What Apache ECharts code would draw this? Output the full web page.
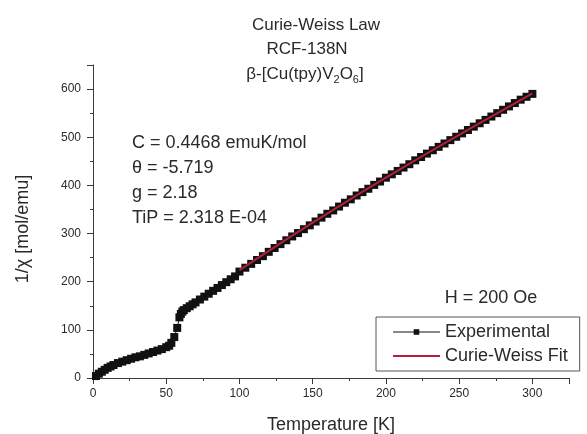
<!DOCTYPE html>
<html>
<head>
<meta charset="utf-8">
<script src="https://cdn.jsdelivr.net/npm/echarts@6/dist/echarts.min.js"></script>
<style>
  html, body { margin: 0; padding: 0; background: #fff; }
  #chart { width: 587px; height: 434px; }
</style>
</head>
<body>
<div id="chart"></div>
<script>
// 实验数据 温度 [K]
const expT = [
  2, 4, 6, 8, 10, 12, 14, 17, 20, 23, 26, 29, 32, 35, 38, 41, 44, 47, 50, 52,
  53.5, 55.5, 57.5, 59, 60, 61, 62, 64, 66, 68, 70, 73, 76, 79, 82, 85, 88,
  91, 94, 97, 100, 104, 108, 112, 116, 120, 124, 128, 132, 136, 140, 144, 148, 152, 156, 160, 164,
  168, 172, 176, 180, 184, 188, 192, 196, 200, 204, 208, 212, 216, 220, 224, 228, 232, 236, 240, 244,
  248, 252, 256, 260, 264, 268, 272, 276, 280, 284, 288, 292, 296, 300
];
// 1/chi [mol/emu]
const expV = [
  4, 9, 13, 17, 21, 24, 27, 31, 34, 37, 40, 43, 45, 48, 51, 54, 57, 60, 64, 67,
  73, 85, 104, 126, 133, 138, 141, 145, 149, 153, 157, 163, 169, 175, 181, 187, 193,
  199, 205, 211, 221, 229, 237, 245, 253, 262, 270, 278, 286, 294, 301, 309, 317, 325, 333, 341, 348,
  356, 364, 371, 379, 386, 393, 401, 408, 416, 423, 430, 437, 444, 452, 459, 466, 473, 480, 487, 494,
  501, 508, 515, 522, 529, 536, 543, 550, 557, 564, 571, 578, 584, 590
];
// Curie-Weiss 拟合线
const fitT = [100, 125, 150, 175, 200, 225, 250, 275, 300];
const fitV = [224, 274, 322.5, 370, 416, 461, 505, 548, 591];

const xTicks = [0, 50, 100, 150, 200, 250, 300];
const yTicks = [0, 100, 200, 300, 400, 500, 600];

const titleLines = ['Curie-Weiss Law', 'RCF-138N'];
const paramLines = ['C = 0.4468 emuK/mol', 'θ = -5.719', 'g = 2.18', 'TiP = 2.318 E-04'];

const font = 'Liberation Sans, Arial, sans-serif';
const textColor = '#2a2a2a';
const axisColor = '#3a3a3a';
const fitColor = '#b3203a';

let chart = echarts.init(document.getElementById('chart'), null, { renderer: 'canvas' });

const expData = expT.map((t, i) => [t, expV[i]]);
const fitData = fitT.map((t, i) => [t, fitV[i]]);

function axisBase(ticks, margin) {
  return {
    axisLine: { show: true, onZero: false, lineStyle: { color: axisColor, width: 1 } },
    axisTick: { show: true, inside: false, length: 6, lineStyle: { color: axisColor } },
    minorTick: { show: true, splitNumber: 2, length: 3, lineStyle: { color: axisColor } },
    splitLine: { show: false },
    axisLabel: {
      color: textColor, fontFamily: font, fontSize: 12, margin: margin,
      showMaxLabel: false,
      formatter: (v) => (ticks.indexOf(v) >= 0 ? String(v) : '')
    }
  };
}

let graphics = [];
// 标题
titleLines.forEach((s, i) => {
  graphics.push({
    type: 'text', x: i === 0 ? 316 : 307, y: 25 + i * 24,
    style: { text: s, fill: textColor, fontFamily: font, fontSize: 17, align: 'center', verticalAlign: 'middle' }
  });
});
graphics.push({
  type: 'text', x: 305, y: 74,
  style: {
    text: '{n|β-[Cu(tpy)V}{s|2}{n|O}{s|6}{n|]}',
    fill: textColor, fontFamily: font, fontSize: 17, align: 'center', verticalAlign: 'middle',
    rich: {
      n: { fontSize: 17, fontFamily: font, fill: textColor, lineHeight: 20 },
      s: { fontSize: 11, fontFamily: font, fill: textColor, lineHeight: 20, padding: [11, 0, 0, 0] }
    }
  }
});
// 拟合参数
paramLines.forEach((s, i) => {
  graphics.push({
    type: 'text', x: 132, y: 143 + i * 25,
    style: { text: s, fill: textColor, fontFamily: font, fontSize: 18, align: 'left', verticalAlign: 'middle' }
  });
});
graphics.push({
  type: 'text', x: 491, y: 298,
  style: { text: 'H = 200 Oe', fill: textColor, fontFamily: font, fontSize: 18, align: 'center', verticalAlign: 'middle' }
});
// 坐标轴标题
graphics.push({
  type: 'text', x: 331, y: 425,
  style: { text: 'Temperature [K]', fill: textColor, fontFamily: font, fontSize: 18, align: 'center', verticalAlign: 'middle' }
});
graphics.push({
  type: 'text', x: 23, y: 229, rotation: Math.PI / 2,
  style: { text: '1/χ [mol/emu]', fill: textColor, fontFamily: font, fontSize: 18, align: 'center', verticalAlign: 'middle' }
});

chart.setOption({
  backgroundColor: '#fff',
  animation: false,
  grid: { left: 93, right: 18, top: 65, bottom: 56, containLabel: false },
  xAxis: Object.assign(axisBase(xTicks, 10), { type: 'value', min: 0, max: 325, interval: 50 }),
  yAxis: Object.assign(axisBase(yTicks, 12), { type: 'value', min: 0, max: 650, interval: 100 }),
  legend: {
    left: 376, top: 317, orient: 'vertical',
    padding: [6, 12, 6, 16], itemGap: 6,
    itemWidth: 47, itemHeight: 7,
    borderColor: '#555', borderWidth: 1, borderRadius: 0,
    textStyle: { color: textColor, fontFamily: font, fontSize: 18 },
    data: [
      { name: 'Experimental', lineStyle: { width: 1 } },
      { name: 'Curie-Weiss Fit', itemStyle: { opacity: 0 }, lineStyle: { width: 2 } }
    ]
  },
  graphic: graphics,
  series: [
    {
      name: 'Experimental', type: 'line', data: expData,
      symbol: 'rect', symbolSize: 8, showSymbol: true,
      itemStyle: { color: '#111' },
      lineStyle: { color: '#111', width: 1 },
      z: 2
    },
    {
      name: 'Curie-Weiss Fit', type: 'line', data: fitData,
      symbol: 'none', smooth: true,
      itemStyle: { color: fitColor },
      lineStyle: { color: fitColor, width: 2 },
      z: 3
    }
  ]
});
</script>
</body>
</html>
